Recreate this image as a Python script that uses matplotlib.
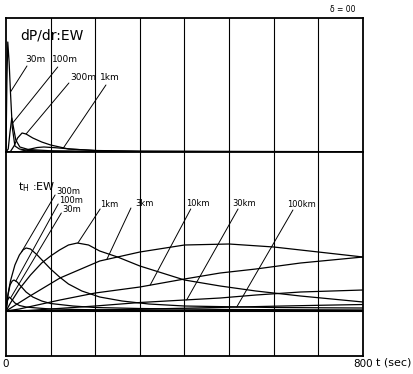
import numpy as np
import matplotlib.pyplot as plt

# upper panel: dP/dr (arbitrary units)
t_dp_30m = [0, 2, 4, 7, 10, 14, 20, 30, 50, 100, 200, 800]
dp_30m = [0, 0.70, 1.10, 0.90, 0.60, 0.25, 0.06, 0.03, 0.015, 0.008, 0.004, 0.002]
t_dp_100m = [0, 5, 9, 13, 17, 22, 31, 50, 100, 200, 800]
dp_100m = [0, 0.03, 0.20, 0.34, 0.24, 0.12, 0.05, 0.025, 0.012, 0.006, 0.002]
t_dp_300m = [0, 10, 18, 26, 36, 45, 60, 80, 100, 140, 200, 300, 800]
dp_300m = [0, 0.005, 0.06, 0.14, 0.19, 0.18, 0.14, 0.10, 0.07, 0.03, 0.015, 0.008, 0.003]
t_dp_1km = [0, 30, 50, 70, 85, 110, 150, 210, 300, 500, 800]
dp_1km = [0, 0.003, 0.025, 0.045, 0.05, 0.043, 0.028, 0.012, 0.006, 0.003, 0.001]

# lower panel: tH (arbitrary units)
t_th_30m = [0, 3, 7, 12, 20, 30, 45, 70, 100, 200, 400, 800]
th_30m = [0, 0.10, 0.14, 0.12, 0.08, 0.055, 0.04, 0.03, 0.02, 0.012, 0.008, 0.005]
t_th_100m = [0, 4, 9, 14, 18, 25, 35, 45, 60, 80, 100, 150, 200, 300, 500, 800]
th_100m = [0, 0.15, 0.26, 0.30, 0.31, 0.29, 0.24, 0.19, 0.14, 0.10, 0.075, 0.05, 0.035, 0.025, 0.015, 0.01]
t_th_300m = [0, 5, 10, 20, 30, 38, 45, 55, 70, 85, 100, 120, 140, 170, 210, 260, 320, 400, 600, 800]
th_300m = [0, 0.18, 0.30, 0.46, 0.56, 0.61, 0.63, 0.62, 0.56, 0.49, 0.42, 0.34, 0.27, 0.20, 0.14, 0.10,
           0.07, 0.05, 0.035, 0.03]
t_th_1km = [0, 10, 30, 55, 80, 100, 120, 140, 160, 185, 210, 250, 300, 350, 400, 480, 560, 660, 800]
th_1km = [0, 0.08, 0.22, 0.36, 0.48, 0.55, 0.61, 0.66, 0.68, 0.66, 0.60, 0.54, 0.45, 0.38, 0.31, 0.25,
          0.20, 0.15, 0.09]
t_th_3km = [0, 50, 121, 210, 300, 400, 500, 600, 700, 800]
th_3km = [0, 0.14, 0.33, 0.50, 0.59, 0.66, 0.67, 0.64, 0.59, 0.54]
t_th_10km = [0, 30, 60, 121, 200, 300, 400, 480, 560, 660, 800]
th_10km = [0, 0.02, 0.05, 0.11, 0.18, 0.24, 0.32, 0.38, 0.42, 0.48, 0.54]
t_th_30km = [0, 50, 100, 200, 300, 400, 480, 560, 660, 800]
th_30km = [0, 0.005, 0.02, 0.05, 0.085, 0.11, 0.13, 0.16, 0.19, 0.21]
t_th_100km = [0, 100, 200, 300, 400, 500, 600, 700, 800]
th_100km = [0, 0.003, 0.01, 0.018, 0.028, 0.038, 0.048, 0.057, 0.065]

fig = plt.figure(figsize=(4.13, 3.74), dpi=100)
ax1 = fig.add_axes([0.0145, 0.5936, 0.8644, 0.3583])
ax2 = fig.add_axes([0.0145, 0.0481, 0.8644, 0.5455])

for ax in (ax1, ax2):
    ax.set_xlim(0, 800)
    for x in range(100, 800, 100):
        ax.axvline(x, color='black', lw=0.8)
    for s in ax.spines.values():
        s.set_linewidth(1.3)
    ax.tick_params(length=0)
    ax.set_yticks([])

ax1.set_ylim(0, 1.34)
ax1.set_xticks([])
ax2.set_ylim(-0.45, 1.59)
ax2.axhline(0, color='black', lw=1.5)
ax2.set_xticks([0, 800])
ax2.set_xticklabels(['0', '800'], fontsize=7.5)
ax2.tick_params(pad=2)

kw = dict(color='black', lw=0.9)
ax1.plot(t_dp_30m, dp_30m, **kw)
ax1.plot(t_dp_100m, dp_100m, **kw)
ax1.plot(t_dp_300m, dp_300m, **kw)
ax1.plot(t_dp_1km, dp_1km, **kw)

ax2.plot(t_th_30m, th_30m, **kw)
ax2.plot(t_th_100m, th_100m, **kw)
ax2.plot(t_th_300m, th_300m, **kw)
ax2.plot(t_th_1km, th_1km, **kw)
ax2.plot(t_th_3km, th_3km, **kw)
ax2.plot(t_th_10km, th_10km, **kw)
ax2.plot(t_th_30km, th_30km, **kw)
ax2.plot(t_th_100km, th_100km, **kw)

arrow = dict(arrowstyle='-', color='black', lw=0.7, shrinkA=0, shrinkB=0)


def label(ax, txt, tx, ty, lx, ly, t_on, ts, ys, fs=6.5):
    # leader line from just under the label to a point on the curve
    ax.annotate('', xy=(t_on, np.interp(t_on, ts, ys)), xytext=(lx, ly), arrowprops=arrow)
    ax.text(tx, ty, txt, fontsize=fs, ha='left', va='center')


label(ax1, '30m', 43, 0.92, 47, 0.86, 10, t_dp_30m, dp_30m)
label(ax1, '100m', 103, 0.92, 116, 0.85, 15, t_dp_100m, dp_100m)
label(ax1, '300m', 143, 0.74, 141, 0.69, 45, t_dp_300m, dp_300m)
label(ax1, '1km', 211, 0.74, 224, 0.67, 128, t_dp_1km, dp_1km)

label(ax2, '300m', 112, 1.19, 110, 1.16, 35, t_th_300m, th_300m, fs=6)
label(ax2, '100m', 119, 1.10, 117, 1.07, 22, t_th_100m, th_100m, fs=6)
label(ax2, '30m', 126, 1.01, 124, 0.98, 10, t_th_30m, th_30m, fs=6)
label(ax2, '1km', 211, 1.06, 211, 1.02, 161, t_th_1km, th_1km, fs=6)
label(ax2, '3km', 289, 1.07, 280, 1.03, 226, t_th_3km, th_3km, fs=6)
label(ax2, '10km', 403, 1.07, 414, 1.02, 323, t_th_10km, th_10km, fs=6)
label(ax2, '30km', 508, 1.07, 520, 1.02, 405, t_th_30km, th_30km, fs=6)
label(ax2, '100km', 630, 1.06, 643, 1.01, 517, t_th_100km, th_100km, fs=6)

ax1.text(0.04, 0.87, 'dP/dr:EW', transform=ax1.transAxes, fontsize=10, va='center')
ax2.text(0.035, 0.83, r'$\mathregular{t_H}$ :EW', transform=ax2.transAxes, fontsize=8, va='center')
ax1.text(0.944, 1.06, 'δ = 00', transform=ax1.transAxes, fontsize=5.5, ha='center', va='center')
ax2.text(1.036, -0.03, 't (sec)', transform=ax2.transAxes, fontsize=8, ha='left', va='center')

fig.savefig('out.png', dpi=100)
